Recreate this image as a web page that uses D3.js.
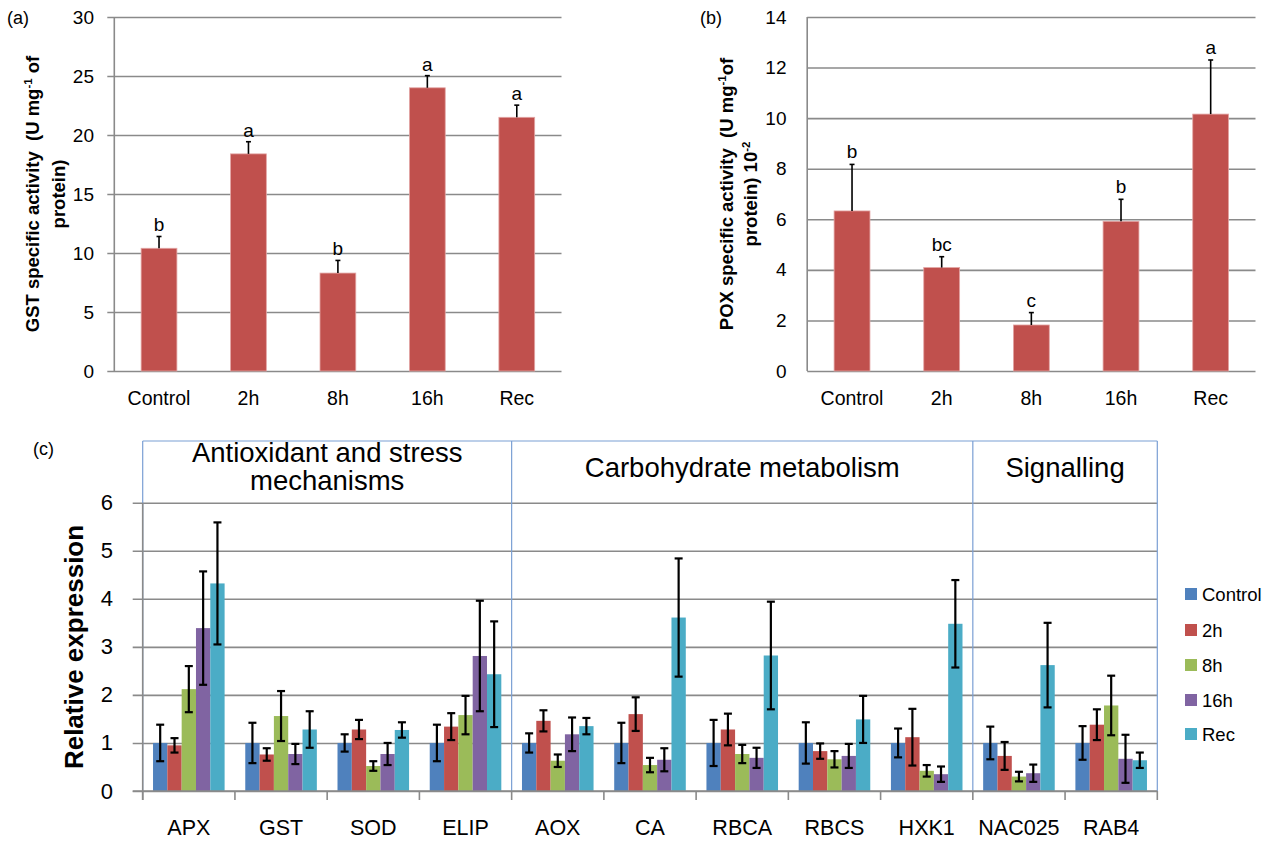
<!DOCTYPE html>
<html>
<head>
<meta charset="utf-8">
<script src="https://cdn.jsdelivr.net/npm/d3@7"></script>
<style>
  html, body { margin: 0; padding: 0; background: #fff; }
  svg { display: block; font-family: "Liberation Sans", Arial, sans-serif; }
</style>
</head>
<body>
<svg id="chart" width="1272" height="842"></svg>
<script>
// ---------- DATA ----------
const timeLabels = ["Control", "2h", "8h", "16h", "Rec"];

const gstActivity = [10.4, 18.4, 8.3, 24.0, 21.5];
const gstError    = [1.0, 1.03, 1.07, 1.03, 1.03];
const gstLetters  = ["b", "a", "b", "a", "a"];
const gstTicks    = [0, 5, 10, 15, 20, 25, 30];

const poxActivity = [6.33, 4.09, 1.82, 5.92, 10.16];
const poxError    = [1.84, 0.43, 0.49, 0.87, 2.14];
const poxLetters  = ["b", "bc", "c", "b", "a"];
const poxTicks    = [0, 2, 4, 6, 8, 10, 12, 14];

const genes = ["APX", "GST", "SOD", "ELIP", "AOX", "CA", "RBCA", "RBCS", "HXK1", "NAC025", "RAB4"];
const exprControl = [1, 1, 1, 1, 1, 1, 1, 1, 1, 1, 1];
const expr2h      = [0.95, 0.76, 1.28, 1.34, 1.46, 1.60, 1.28, 0.83, 1.12, 0.73, 1.38];
const expr8h      = [2.12, 1.56, 0.52, 1.58, 0.63, 0.54, 0.77, 0.66, 0.42, 0.30, 1.78];
const expr16h     = [3.39, 0.77, 0.77, 2.81, 1.18, 0.65, 0.69, 0.73, 0.35, 0.37, 0.67];
const exprRec     = [4.32, 1.28, 1.27, 2.43, 1.35, 3.61, 2.82, 1.49, 3.48, 2.62, 0.64];
const errControl  = [0.38, 0.42, 0.18, 0.38, 0.20, 0.42, 0.48, 0.43, 0.30, 0.34, 0.35];
const err2h       = [0.15, 0.13, 0.20, 0.28, 0.22, 0.35, 0.33, 0.16, 0.59, 0.29, 0.32];
const err8h       = [0.48, 0.52, 0.10, 0.40, 0.13, 0.15, 0.19, 0.17, 0.12, 0.10, 0.62];
const err16h      = [1.18, 0.21, 0.23, 1.15, 0.35, 0.24, 0.21, 0.25, 0.16, 0.18, 0.50];
const errRec      = [1.27, 0.38, 0.16, 1.10, 0.17, 1.23, 1.12, 0.49, 0.91, 0.88, 0.16];
const exprTicks   = [0, 1, 2, 3, 4, 5, 6];

const groupTitles = [["Antioxidant and stress", "mechanisms"], ["Carbohydrate metabolism"], ["Signalling"]];
const groupSizes  = [4, 5, 2];

const seriesColors = ["#4F81BD", "#C0504D", "#9BBB59", "#8064A2", "#4BACC6"];

// ---------- HELPERS ----------
const svg = d3.select("#chart");
const gridColor = "#8a8a8a";

function ylabel(g, x, y, parts, size) {
  const t = g.append("text")
    .attr("transform", `translate(${x},${y}) rotate(-90)`)
    .attr("text-anchor", "middle")
    .attr("font-weight", "bold")
    .attr("font-size", size)
    .attr("fill", "#000");
  parts.forEach(p => {
    if (p.sup) {
      t.append("tspan").attr("font-size", size * 0.62).attr("dy", -size * 0.38).text(p.sup);
      t.append("tspan").attr("dy", size * 0.38).text(p.after || "");
    } else {
      t.append("tspan").text(p.text);
    }
  });
  return t;
}

function activityPanel(opts) {
  const g = svg.append("g");
  const x = d3.scaleBand().domain(timeLabels).range([opts.x0, opts.x1]).paddingInner(0.6).paddingOuter(0.3);
  const y = d3.scaleLinear().domain([0, opts.max]).range([371, 17]);

  const ag = g.append("g").attr("transform", `translate(${opts.x1},0)`);
  ag.call(d3.axisLeft(y).tickValues(opts.ticks).tickSize(opts.x1 - opts.x0 + opts.tickOut).tickFormat(""));
  ag.select(".domain").remove();
  ag.selectAll(".tick line").attr("stroke", gridColor).attr("stroke-width", 1.6);

  const lg = g.append("g").attr("transform", `translate(${opts.labelRight},0)`);
  lg.call(d3.axisLeft(y).tickValues(opts.ticks).tickSize(0).tickPadding(0).tickFormat(d3.format("d")));
  lg.select(".domain").remove();
  lg.selectAll("text").attr("font-size", 19).attr("fill", "#000").attr("font-family", "Liberation Sans, Arial, sans-serif");

  g.append("line").attr("x1", opts.x0).attr("x2", opts.x0).attr("y1", y(opts.max)).attr("y2", y(0))
    .attr("stroke", gridColor).attr("stroke-width", 1.6);

  // bars
  g.selectAll("rect.bar").data(opts.values).join("rect")
    .attr("x", (d, i) => x(timeLabels[i]))
    .attr("y", d => y(d))
    .attr("width", x.bandwidth())
    .attr("height", d => y(0) - y(d))
    .attr("fill", "#C0504D")
    .attr("stroke", "#e3a5a4").attr("stroke-width", 0.8);

  // error bars (upper)
  opts.values.forEach((v, i) => {
    const cx = x(timeLabels[i]) + x.bandwidth() / 2;
    const top = y(v + opts.errors[i]);
    g.append("line").attr("x1", cx).attr("x2", cx).attr("y1", y(v)).attr("y2", top).attr("stroke", "#000").attr("stroke-width", 1.6);
    g.append("line").attr("x1", cx - 2.5).attr("x2", cx + 2.5).attr("y1", top).attr("y2", top).attr("stroke", "#000").attr("stroke-width", 1.6);
    g.append("text").attr("x", cx).attr("y", top - opts.letterGap).attr("text-anchor", "middle")
      .attr("font-size", 19).text(opts.letters[i]);
  });

  // x labels
  timeLabels.forEach(t => {
    g.append("text").attr("x", x(t) + x.bandwidth() / 2).attr("y", 405).attr("text-anchor", "middle")
      .attr("font-size", 19.5).text(t);
  });
  return g;
}

// ---------- PANEL (a) ----------
svg.append("text").attr("x", 7).attr("y", 24).attr("font-size", 18).text("(a)");
activityPanel({ x0: 114.3, x1: 561.5, max: 30, ticks: gstTicks, values: gstActivity, errors: gstError,
  letters: gstLetters, tickOut: 7, labelRight: 94, letterGap: 5 });
ylabel(svg, 39, 194, [{ text: "GST specific activity  (U mg" }, { sup: "-1", after: " of" }], 18.5)
  .attr("xml:space", "preserve");
svg.append("text").attr("transform", "translate(65,194) rotate(-90)").attr("text-anchor", "middle")
  .attr("font-weight", "bold").attr("font-size", 18.5).text("protein)");

// ---------- PANEL (b) ----------
svg.append("text").attr("x", 700).attr("y", 24).attr("font-size", 18).text("(b)");
activityPanel({ x0: 807.2, x1: 1255.5, max: 14, ticks: poxTicks, values: poxActivity, errors: poxError,
  letters: poxLetters, tickOut: 0, labelRight: 786.5, letterGap: 6 });
ylabel(svg, 733, 194, [{ text: "POX specific activity  (U mg" }, { sup: "-1", after: "of" }], 18.5)
  .attr("xml:space", "preserve");
ylabel(svg, 757, 194, [{ text: "protein) 10" }, { sup: "-2", after: "" }], 18.5);

// ---------- PANEL (c) ----------
svg.append("text").attr("x", 33).attr("y", 455).attr("font-size", 18).text("(c)");
const cx0 = 142.7, cx1 = 1157.3, cTop = 441;
const xc = d3.scaleBand().domain(genes).range([cx0, cx1]).paddingInner(0).paddingOuter(0);
const yc = d3.scaleLinear().domain([0, 6]).range([791, 502.7]);
const bw = xc.bandwidth();
const xs = d3.scaleBand().domain(timeLabels).range([bw * 0.112, bw * 0.888]).padding(0);

const gc = svg.append("g");
const gridC = gc.append("g").attr("transform", `translate(${cx1},0)`)
  .call(d3.axisLeft(yc).tickValues(exprTicks).tickSize(cx1 - cx0 + 10).tickFormat(""));
gridC.select(".domain").remove();
gridC.selectAll(".tick line").attr("stroke", gridColor).attr("stroke-width", 1.6);

const labC = gc.append("g").attr("transform", `translate(113,0)`)
  .call(d3.axisLeft(yc).tickValues(exprTicks).tickSize(0).tickPadding(0).tickFormat(d3.format("d")));
labC.select(".domain").remove();
labC.selectAll("text").attr("font-size", 22).attr("fill", "#000").attr("font-family", "Liberation Sans, Arial, sans-serif");

// group boxes (blue)
const boxColor = "#7a9fd4";
gc.append("line").attr("x1", cx0).attr("x2", cx1).attr("y1", cTop).attr("y2", cTop).attr("stroke", boxColor).attr("stroke-width", 1.2);
let acc = 0;
const boundaries = [0];
groupSizes.forEach(s => { acc += s; boundaries.push(acc); });
boundaries.forEach(b => {
  const bx = b < genes.length ? xc(genes[b]) : cx1;
  gc.append("line").attr("x1", bx).attr("x2", bx).attr("y1", cTop).attr("y2", yc(0)).attr("stroke", boxColor).attr("stroke-width", 1.2);
});
groupTitles.forEach((lines, gi) => {
  const a = xc(genes[boundaries[gi]]);
  const b = boundaries[gi + 1] < genes.length ? xc(genes[boundaries[gi + 1]]) : cx1;
  const mid = (a + b) / 2;
  if (lines.length === 2) {
    gc.append("text").attr("x", mid).attr("y", 462).attr("text-anchor", "middle").attr("font-size", 27.5).text(lines[0]);
    gc.append("text").attr("x", mid).attr("y", 490).attr("text-anchor", "middle").attr("font-size", 27.5).text(lines[1]);
  } else {
    gc.append("text").attr("x", mid).attr("y", 477).attr("text-anchor", "middle").attr("font-size", 27.5).text(lines[0]);
  }
});

// y axis line and x axis ticks
gc.append("line").attr("x1", cx0).attr("x2", cx0).attr("y1", yc(6)).attr("y2", yc(0) + 9).attr("stroke", gridColor).attr("stroke-width", 1.6);
const xAxisC = gc.append("g").attr("transform", `translate(0,${yc(0)})`);
const tickPositions = genes.map(g => xc(g)).concat([cx1]);
tickPositions.forEach(tx => {
  xAxisC.append("line").attr("x1", tx).attr("x2", tx).attr("y1", 0).attr("y2", 9).attr("stroke", gridColor).attr("stroke-width", 1.6);
});

// bars
const exprSeries = [exprControl, expr2h, expr8h, expr16h, exprRec];
const errSeries = [errControl, err2h, err8h, err16h, errRec];
const barsG = gc.append("g");
exprSeries.forEach((vals, si) => {
  barsG.selectAll(null).data(vals).join("rect")
    .attr("x", (d, i) => xc(genes[i]) + xs(timeLabels[si]))
    .attr("y", d => yc(d))
    .attr("width", xs.bandwidth())
    .attr("height", d => yc(0) - yc(d))
    .attr("fill", seriesColors[si]);
});
// error bars
const errG = gc.append("g").attr("stroke", "#000").attr("stroke-width", 2.2);
exprSeries.forEach((vals, si) => {
  vals.forEach((v, i) => {
    const cx = xc(genes[i]) + xs(timeLabels[si]) + xs.bandwidth() / 2;
    const hi = yc(v + errSeries[si][i]);
    const lo = yc(v - errSeries[si][i]);
    errG.append("line").attr("x1", cx).attr("x2", cx).attr("y1", hi).attr("y2", lo);
    errG.append("line").attr("x1", cx - 4).attr("x2", cx + 4).attr("y1", hi).attr("y2", hi);
    errG.append("line").attr("x1", cx - 4).attr("x2", cx + 4).attr("y1", lo).attr("y2", lo);
  });
});
gc.append("line").attr("x1", cx0 - 10).attr("x2", cx1).attr("y1", yc(0)).attr("y2", yc(0)).attr("stroke", gridColor).attr("stroke-width", 1.6);

// x labels
genes.forEach(gname => {
  gc.append("text").attr("x", xc(gname) + bw / 2).attr("y", 835).attr("text-anchor", "middle").attr("font-size", 21.5).text(gname);
});

// y label
gc.append("text").attr("transform", `translate(83,647) rotate(-90)`).attr("text-anchor", "middle")
  .attr("font-weight", "bold").attr("font-size", 26).text("Relative expression");

// legend
const legendY = [594, 630, 665, 700, 734];
timeLabels.forEach((t, i) => {
  gc.append("rect").attr("x", 1185).attr("y", legendY[i] - 6).attr("width", 12).attr("height", 12).attr("fill", seriesColors[i]);
  gc.append("text").attr("x", 1202).attr("y", legendY[i] + 7).attr("font-size", 18.5).text(t);
});
</script>
</body>
</html>
